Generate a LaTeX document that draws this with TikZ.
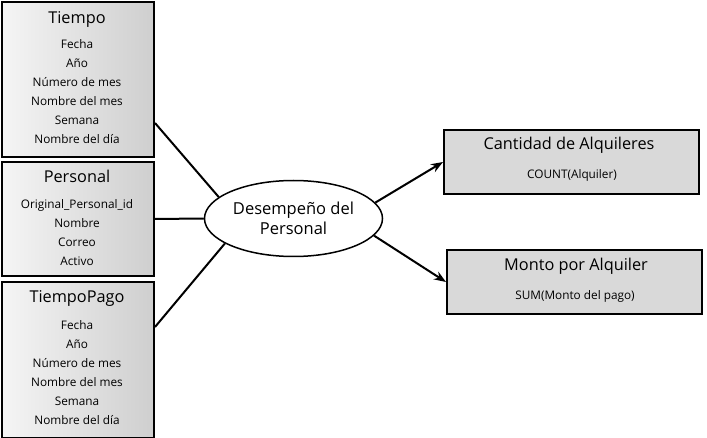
\documentclass[tikz,border=0pt]{standalone}
\usepackage{fontspec}
\setmainfont{Open Sans}
\usetikzlibrary{shapes.geometric,arrows.meta}
\tikzset{
  dimbox/.style={rectangle,draw=black,line width=2pt,left color=black!4,right color=black!19,
    anchor=north west,inner sep=0pt,minimum width=152pt},
  factbox/.style={rectangle,draw=black,line width=2pt,fill=black!15,
    anchor=north west,inner sep=0pt,minimum width=255pt,minimum height=64pt},
  title/.style={font=\fontsize{16.3}{19}\selectfont,inner sep=0pt,text height=11.5pt,text depth=3.5pt},
  item/.style={font=\fontsize{11.8}{14}\selectfont,inner sep=0pt,text height=8.5pt,text depth=2.5pt},
}
\begin{document}
\begin{tikzpicture}[x=1pt,y=-1pt]
\useasboundingbox (0,0) rectangle (707,438);
% dimensiones
\node[dimbox,minimum height=155pt] (tiempo) at (1,1) {};
\node[dimbox,minimum height=114pt] (personal) at (1,161) {};
\node[dimbox,minimum height=156pt] (pago) at (1,281) {};

\node[title] (tiempoT) at (77,20) {Tiempo};
\foreach \txt [count=\i] in {Fecha,Año,Número de mes,Nombre del mes,Semana,Nombre del día}
  \node[item] (tiempo\i) at (77,26.5+19*\i) {\txt};

\node[title] (personalT) at (77,179) {Personal};
\foreach \txt [count=\i] in {Original\_Personal\_id,Nombre,Correo,Activo}
  \node[item] (personal\i) at (77,186.5+19*\i) {\txt};

\node[title] (pagoT) at (77,299) {TiempoPago};
\foreach \txt [count=\i] in {Fecha,Año,Número de mes,Nombre del mes,Semana,Nombre del día}
  \node[item] (pago\i) at (77,307.5+19*\i) {\txt};

% hecho
\node[ellipse,draw=black,line width=1.5pt,fill=white,minimum width=178pt,minimum height=76pt,
  inner sep=0pt,align=center,font=\fontsize{16.5}{20}\selectfont] (desempeno) at (293.5,218.5)
  {Desempeño del\\Personal};

% medidas
\node[factbox] (cantidad) at (443,129) {};
\node[title] (cantidadT) at (569,146) {Cantidad de Alquileres};
\node[item] (cantidadS) at (572,176) {COUNT(Alquiler)};

\node[factbox] (monto) at (446,249) {};
\node[title] (montoT) at (576,267) {Monto por Alquiler};
\node[item] (montoS) at (575,297) {SUM(Monto del pago)};

\begin{scope}[line width=2pt]
  \draw ([yshift=-43.5pt]tiempo.east) -- (desempeno.164);
  \draw (personal.east) -- (desempeno.west);
  \draw ([yshift=33pt]pago.east) -- (desempeno.200);
  \draw[-{Stealth[length=12pt,width=9pt]}] (desempeno.11) -- (cantidad.west);
  \draw[-{Stealth[length=12pt,width=9pt]}] (desempeno.348) -- (monto.west);
\end{scope}
\end{tikzpicture}
\end{document}
